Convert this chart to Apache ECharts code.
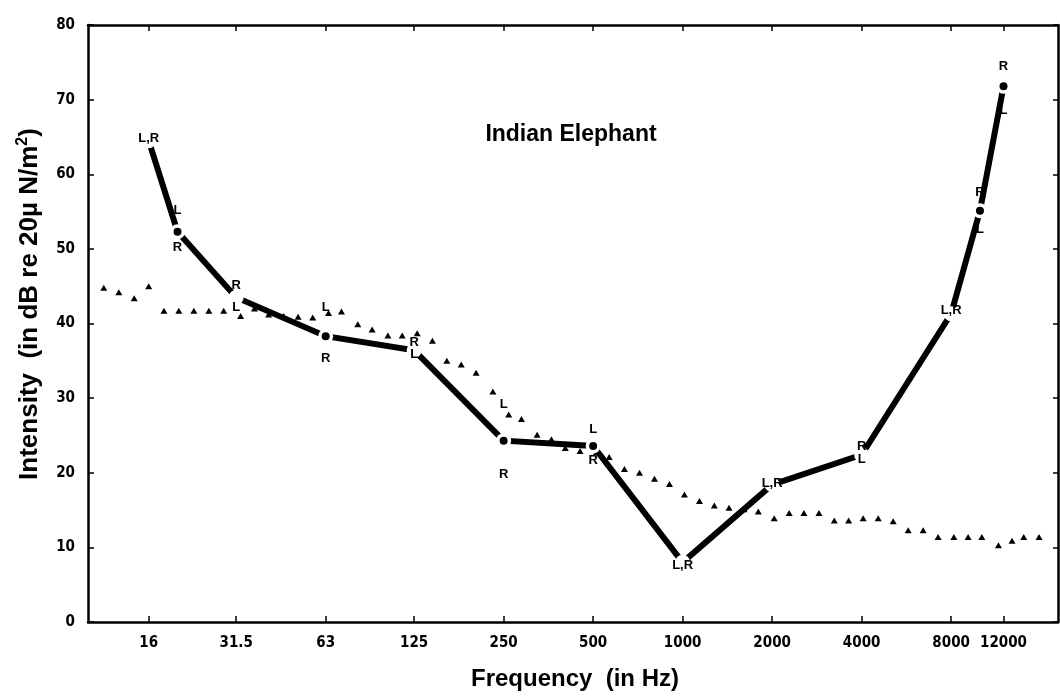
<!DOCTYPE html>
<html>
<head>
<meta charset="utf-8">
<script src="https://cdn.jsdelivr.net/npm/echarts@6/dist/echarts.min.js"></script>
<style>
html,body{margin:0;padding:0;background:#fff;}
#chart{width:1060px;height:700px;}
</style>
</head>
<body>
<div id="chart"></div>
<script>
// ---- data ----
const tickFreqs = [16, 31.5, 63, 125, 250, 500, 1000, 2000, 4000, 8000, 12000];
const tickLabels = ['16', '31.5', '63', '125', '250', '500', '1000', '2000', '4000', '8000', '12000'];
const freqMin = 10;
const freqMax = 18300;

// thick line: mean threshold of both ears
const pointFreqs = [16, 20, 31.5, 63, 125, 250, 500, 1000, 2000, 4000, 8000, 10000, 12000];
const meanDb   = [64.5, 52.3, 43.5, 38.3, 36.4, 24.3, 23.6, 8.0, 18.4, 22.4, 41.3, 55.1, 71.8];
// individual ear thresholds (label marks)
const leftDb   = [null, 55.2, 42.1, 42.1, 35.8, 29.2, 25.8, null, null, 21.8, null, 52.6, 68.6];
const rightDb  = [null, 50.2, 45.1, 35.3, 37.5, 19.8, 21.6, null, null, 23.5, null, 57.6, 74.4];
const bothDb   = [64.8, null, null, null, null, null, null, 7.6, 18.6, null, 41.8, null, null];

// triangles: comparison curve
const triFreqs = [11.3, 12.7, 14.3, 16, 18.0, 20.2, 22.7, 25.5, 28.6, 32.6, 36.3, 40.5, 45.5, 50.9, 57.0, 64.4,
  71.2, 80.8, 90.3, 102, 114, 128, 144, 161, 180, 202, 230, 260, 287, 324, 362, 403, 452, 512, 566, 637,
  716, 804, 903, 1014, 1139, 1278, 1432, 1609, 1797, 2032, 2282, 2558, 2874, 3236, 3616, 4048, 4547,
  5107, 5736, 6440, 7231, 8170, 9122, 10142, 11538, 12819, 14037, 15803];
const triDb = [44.8, 44.2, 43.4, 45.0, 41.7, 41.7, 41.7, 41.7, 41.7, 41.0, 42.0, 41.2, 41.0, 40.9, 40.8, 41.4,
  41.6, 39.9, 39.2, 38.4, 38.4, 38.7, 37.7, 35.0, 34.5, 33.4, 30.9, 27.8, 27.2, 25.1, 24.5, 23.3, 22.9, 22.7,
  22.1, 20.5, 20.0, 19.2, 18.5, 17.1, 16.2, 15.6, 15.3, 15.1, 14.8, 13.9, 14.6, 14.6, 14.6, 13.6, 13.6, 13.9,
  13.9, 13.5, 12.3, 12.3, 11.4, 11.4, 11.4, 11.4, 10.3, 10.9, 11.4, 11.4];

const titleText = 'Indian Elephant';
const xTitle = 'Frequency  (in Hz)';

// ---- build ----
const lx = f => Math.log2(f);
const pairs = (fs, vs) => fs.map((f, i) => vs[i] == null ? null : [lx(f), vs[i]]).filter(p => p);
const tickVals = tickFreqs.map(lx);
const fmtTick = v => {
  for (let i = 0; i < tickVals.length; i++) if (Math.abs(tickVals[i] - v) < 1e-6) return tickLabels[i];
  return '';
};
const dotPairs = pointFreqs.map((f, i) =>
  (leftDb[i] != null && rightDb[i] != null && Math.abs(leftDb[i] - rightDb[i]) > 3) ? [lx(f), meanDb[i]] : null
).filter(p => p);

const tickFont = {fontFamily: '"DejaVu Sans Condensed","Liberation Sans Narrow","DejaVu Sans",sans-serif',
  fontWeight: 'bold', fontSize: 15, color: '#000'};
const markFont = {fontFamily: '"Liberation Sans",Arial,sans-serif', fontWeight: 'bold', fontSize: 13,
  color: '#000', textBorderWidth: 0, opacity: 1};
const axisLine = {show: true, onZero: false, lineStyle: {color: '#000', width: 2.5}};

const labelSeries = (name, data, text) => ({
  name, type: 'scatter', data, symbolSize: 1, z: 6,
  itemStyle: {color: 'rgba(255,255,255,0)', opacity: 1},
  label: {show: true, position: 'inside', formatter: text, ...markFont},
  emphasis: {disabled: true}, silent: true
});

const chart = echarts.init(document.getElementById('chart'), null, {renderer: 'canvas'});
chart.setOption({
  animation: false,
  backgroundColor: '#fff',
  grid: {left: 88, right: 2, top: 25, bottom: 78},
  xAxis: [
    {type: 'value', position: 'bottom', min: lx(freqMin), max: lx(freqMax),
     axisLine, splitLine: {show: false},
     axisTick: {show: true, inside: true, length: 6, customValues: tickVals, lineStyle: {color: '#000', width: 1.5}},
     axisLabel: {show: true, customValues: tickVals, formatter: fmtTick, margin: 14, ...tickFont}},
    {type: 'value', position: 'top', min: lx(freqMin), max: lx(freqMax),
     axisLine, splitLine: {show: false},
     axisTick: {show: true, inside: true, length: 6, customValues: tickVals, lineStyle: {color: '#000', width: 1.5}},
     axisLabel: {show: false}}
  ],
  yAxis: [
    {type: 'value', position: 'left', min: 0, max: 80, interval: 10,
     axisLine, splitLine: {show: false},
     axisTick: {show: true, inside: true, length: 6, lineStyle: {color: '#000', width: 1.5}},
     axisLabel: {show: true, margin: 13, ...tickFont}},
    {type: 'value', position: 'right', min: 0, max: 80, interval: 10,
     axisLine, splitLine: {show: false},
     axisTick: {show: true, inside: true, length: 5, lineStyle: {color: '#000', width: 1.5}},
     axisLabel: {show: false}}
  ],
  graphic: [
    {type: 'text', x: 571, y: 135, z: 10,
     style: {text: titleText, align: 'center', verticalAlign: 'middle',
       font: 'bold 23px "Liberation Sans", Arial, sans-serif', fill: '#000'}},
    {type: 'text', x: 575, y: 679, z: 10,
     style: {text: xTitle, align: 'center', verticalAlign: 'middle',
       font: 'bold 24px "Liberation Sans", Arial, sans-serif', fill: '#000'}},
    {type: 'text', x: 30, y: 304, rotation: Math.PI / 2, z: 10,
     style: {text: '{a|Intensity  (in dB re 20µ N/m}{s|2}{a|)}', align: 'center', verticalAlign: 'middle',
       rich: {
         a: {font: 'bold 26px "Liberation Sans", Arial, sans-serif', fill: '#000', lineHeight: 30},
         s: {font: 'bold 16px "Liberation Sans", Arial, sans-serif', fill: '#000', verticalAlign: 'top', lineHeight: 30, padding: [0, 0, 10, 0]}
       }}}
  ],
  series: [
    {name: 'triangles', type: 'scatter', data: pairs(triFreqs, triDb), symbol: 'triangle', symbolSize: [7, 6],
     itemStyle: {color: '#000', opacity: 1}, z: 2, silent: true},
    {name: 'mean', type: 'line', data: pairs(pointFreqs, meanDb), showSymbol: false,
     lineStyle: {color: '#000', width: 6, cap: 'butt', join: 'miter', opacity: 1}, z: 3, silent: true},
    {name: 'gaps', type: 'scatter', data: pairs(pointFreqs, meanDb), symbolSize: 15,
     itemStyle: {color: '#fff', opacity: 1}, z: 4, silent: true},
    {name: 'dots', type: 'scatter', data: dotPairs, symbolSize: 8,
     itemStyle: {color: '#000', opacity: 1}, z: 5, silent: true},
    labelSeries('L', pairs(pointFreqs, leftDb), 'L'),
    labelSeries('R', pairs(pointFreqs, rightDb), 'R'),
    labelSeries('LR', pairs(pointFreqs, bothDb), 'L,R')
  ]
});
</script>
</body>
</html>
